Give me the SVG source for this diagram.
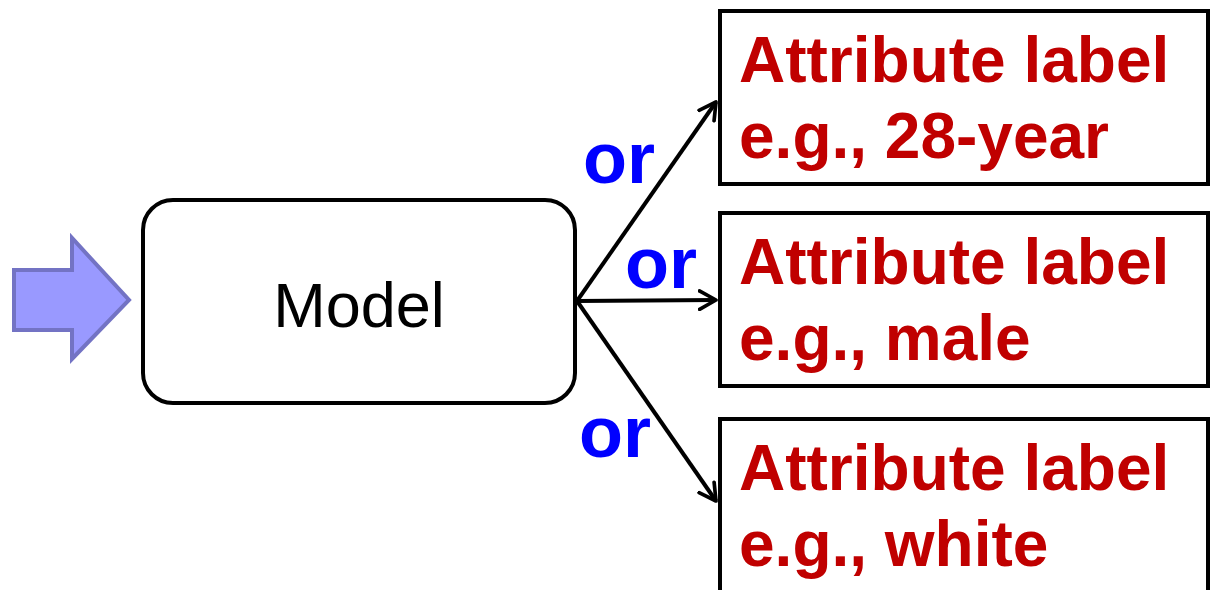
<svg xmlns="http://www.w3.org/2000/svg" width="1211" height="590" viewBox="0 0 1211 590">
<style>
.box{fill:#fff;stroke:#000;stroke-width:4}
.attr{font-family:"Liberation Sans",Arial,sans-serif;font-weight:bold;font-size:64px;fill:#C00000}
.or{font-family:"Liberation Sans",Arial,sans-serif;font-weight:bold;font-size:72px;fill:#0000FF}
.conn{stroke:#000;stroke-width:4;fill:none;marker-end:url(#ah)}
</style>
<defs>
<marker id="ah" viewBox="0 0 12 12" refX="10" refY="6" markerWidth="5.5" markerHeight="5.5" markerUnits="strokeWidth" orient="auto">
<path d="M1,1 L10,6 L1,11" fill="none" stroke="#000" stroke-width="2" stroke-linecap="round" stroke-linejoin="round"/>
</marker>
</defs>
<rect width="1211" height="590" fill="#fff"/>
<g id="input-arrow">
<polygon points="14,270 72,270 72,238 129,300 72,359 72,330 14,330" fill="#9999FF" stroke="#7373C4" stroke-width="4" stroke-linejoin="miter"/>
</g>
<g id="model">
<rect class="box" x="143" y="200" width="432" height="203" rx="30" ry="30"/>
<text x="359" y="327" font-family="Liberation Sans,Arial,sans-serif" font-size="63" text-anchor="middle" fill="#000">Model</text>
</g>
<g id="attr1">
<rect class="box" x="720" y="11" width="488" height="173"/>
<text class="attr" x="739" y="82">Attribute label</text>
<text class="attr" x="739" y="158">e.g., 28-year</text>
</g>
<g id="attr2">
<rect class="box" x="720" y="213" width="488" height="173"/>
<text class="attr" x="739" y="284">Attribute label</text>
<text class="attr" x="739" y="360">e.g., male</text>
</g>
<g id="attr3">
<rect class="box" x="720" y="419" width="488" height="190"/>
<text class="attr" x="739" y="490">Attribute label</text>
<text class="attr" x="739" y="566">e.g., white</text>
</g>
<g id="connectors">
<line class="conn" x1="577" y1="301" x2="716" y2="102"/>
<line class="conn" x1="577" y1="301" x2="716" y2="300"/>
<line class="conn" x1="577" y1="301" x2="716" y2="501"/>
<text class="or" x="583" y="183">or</text>
<text class="or" x="625" y="288">or</text>
<text class="or" x="579" y="457">or</text>
</g>
</svg>
